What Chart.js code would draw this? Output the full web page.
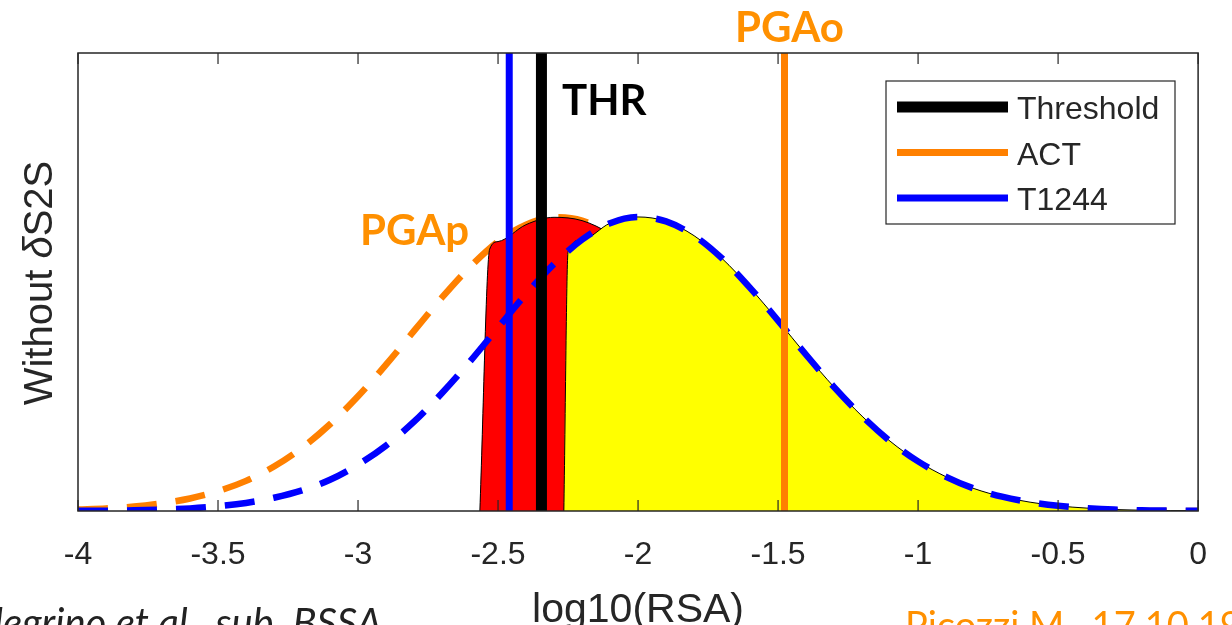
<!DOCTYPE html>
<html>
<head>
<meta charset="utf-8">
<script src="https://cdn.jsdelivr.net/npm/chart.js@4.4.0/dist/chart.umd.min.js"></script>
<style>
  html, body { margin: 0; padding: 0; background: #fff; }
  canvas { display: block; }
</style>
</head>
<body>
<canvas id="pdfChart" width="1232" height="625"></canvas>
<script>
// log10(RSA) grid
const xGrid = [-4.0, -3.9, -3.8, -3.7, -3.6, -3.5, -3.4, -3.3, -3.2, -3.1,
               -3.0, -2.9, -2.8, -2.7, -2.6, -2.5, -2.4, -2.3, -2.2, -2.1,
               -2.0, -1.9, -1.8, -1.7, -1.6, -1.5, -1.4, -1.3, -1.2, -1.1,
               -1.0, -0.9, -0.8, -0.7, -0.6, -0.5, -0.4, -0.3, -0.2, -0.1, 0.0];

// ACT (orange dashed) and T1244 (blue dashed) curves
const actPdf = [0.004, 0.007, 0.012, 0.021, 0.034, 0.054, 0.082, 0.121, 0.172, 0.236,
                0.312, 0.398, 0.490, 0.581, 0.664, 0.733, 0.779, 0.799, 0.790, 0.754,
                0.694, 0.616, 0.526, 0.434, 0.345, 0.265, 0.196, 0.140, 0.096, 0.064,
                0.041, 0.025, 0.015, 0.009, 0.005, 0.002, 0.001, 0.001, 0, 0, 0];
const t1244Pdf = [0.001, 0.001, 0.002, 0.004, 0.007, 0.013, 0.022, 0.036, 0.056, 0.085,
                  0.126, 0.178, 0.243, 0.321, 0.407, 0.499, 0.590, 0.672, 0.738, 0.783,
                  0.800, 0.788, 0.749, 0.687, 0.607, 0.518, 0.425, 0.337, 0.258, 0.190,
                  0.135, 0.093, 0.061, 0.039, 0.024, 0.014, 0.008, 0.004, 0.002, 0.001, 0.001];

// vertical markers
const thresholdX = -2.345;
const actX = -1.477;
const t1244X = -2.46;

// shaded areas: left edge points, then the curve
const redEdgeX = [-2.565, -2.53];
const redEdgeY = [0, 0.712];
const redEndX = -1.9;
const yellowEdgeX = [-2.265, -2.25];
const yellowEdgeY = [0, 0.705];

const xTicks = [-4, -3.5, -3, -2.5, -2, -1.5, -1, -0.5, 0];
const legendLabels = ['Threshold', 'ACT', 'T1244'];

const yMax = 1.246;
const ORANGE = '#ff8000';
const TEXT_ORANGE = '#ff9000';
const AXIS = '#262626';
const SANS = '"Liberation Sans", Arial, sans-serif';

function pts(xs, ys) { return xs.map((x, i) => ({ x: x, y: ys[i] })); }

const actPts = pts(xGrid, actPdf);
const t1244Pts = pts(xGrid, t1244Pdf);
const redPts = pts(redEdgeX, redEdgeY)
  .concat(actPts.filter(p => p.x > redEdgeX[1] + 1e-9 && p.x <= redEndX + 1e-9))
  .concat([{ x: redEndX, y: 0 }]);
const yellowPts = pts(yellowEdgeX, yellowEdgeY)
  .concat(t1244Pts.filter(p => p.x > yellowEdgeX[1] + 1e-9));

function vline(x) { return [{ x: x, y: 0 }, { x: x, y: yMax }]; }

const framePlugin = {
  id: 'frame',
  afterDatasetsDraw(chart) {
    const ctx = chart.ctx;
    const a = chart.chartArea;
    const xs = chart.scales.x;
    ctx.save();
    // axes box
    ctx.strokeStyle = AXIS;
    ctx.lineWidth = 1.5;
    ctx.strokeRect(a.left, a.top, a.right - a.left, a.bottom - a.top);
    // inward ticks, bottom and top
    ctx.lineWidth = 1.2;
    xTicks.forEach(v => {
      const px = xs.getPixelForValue(v);
      ctx.beginPath();
      ctx.moveTo(px, a.bottom); ctx.lineTo(px, a.bottom - 11);
      ctx.moveTo(px, a.top); ctx.lineTo(px, a.top + 11);
      ctx.stroke();
    });

    // legend
    const lx = 886, ly = 81, lw = 289, lh = 143;
    ctx.fillStyle = '#fff';
    ctx.fillRect(lx, ly, lw, lh);
    ctx.lineWidth = 1.2;
    ctx.strokeStyle = AXIS;
    ctx.strokeRect(lx, ly, lw, lh);
    ctx.font = '32px ' + SANS;
    ctx.textBaseline = 'alphabetic';
    ctx.textAlign = 'left';
    legendLabels.forEach((lab, i) => {
      const ds = chart.data.datasets.find(d => d.label === lab);
      const y = 107 + i * 45.5;
      ctx.beginPath();
      ctx.strokeStyle = ds.borderColor;
      ctx.lineWidth = ds.borderWidth;
      ctx.moveTo(lx + 11, y); ctx.lineTo(lx + 122, y);
      ctx.stroke();
      ctx.fillStyle = AXIS;
      ctx.fillText(lab, lx + 131, y + 12);
    });

    // y label with italic delta
    ctx.save();
    ctx.translate(52, 283);
    ctx.rotate(-Math.PI / 2);
    const parts = [['Without ', '40px ' + SANS], ['\u03b4', 'italic 40px ' + SANS], ['S2S', '40px ' + SANS]];
    let total = 0;
    parts.forEach(p => { ctx.font = p[1]; total += ctx.measureText(p[0]).width; });
    let cx = -total / 2;
    ctx.fillStyle = AXIS;
    parts.forEach(p => { ctx.font = p[1]; ctx.fillText(p[0], cx, 0); cx += ctx.measureText(p[0]).width; });
    ctx.restore();

    // annotations
    ctx.font = 'bold 42px Lato, "Open Sans", sans-serif';
    ctx.fillStyle = '#000';
    ctx.textAlign = 'left';
    ctx.fillText('THR', 562, 115);
    ctx.fillStyle = TEXT_ORANGE;
    ctx.textAlign = 'center';
    ctx.fillText('PGAo', xs.getPixelForValue(actX) + 5, 42);
    ctx.textAlign = 'left';
    ctx.fillText('PGAp', 360, 245);

    // slide footers, cut by the frame
    ctx.font = 'italic 40px Lato, "Open Sans", sans-serif';
    ctx.fillStyle = '#222';
    ctx.textAlign = 'right';
    ctx.fillText('Pellegrino et al., sub. BSSA', 382, 637);
    ctx.font = '38px Lato, "Open Sans", sans-serif';
    ctx.fillStyle = TEXT_ORANGE;
    ctx.textAlign = 'left';
    ctx.fillText('Picozzi M., 17.10.19', 905, 639);
    ctx.restore();
  }
};

const ctx = document.getElementById('pdfChart').getContext('2d');
new Chart(ctx, {
  type: 'scatter',
  data: {
    datasets: [
      { label: 'ACT', data: vline(actX), showLine: true, borderColor: ORANGE, borderWidth: 7, pointRadius: 0, order: 0 },
      { label: 'Threshold', data: vline(thresholdX), showLine: true, borderColor: '#000', borderWidth: 11, pointRadius: 0, order: 1 },
      { label: 'T1244', data: vline(t1244X), showLine: true, borderColor: '#0000ff', borderWidth: 7, pointRadius: 0, order: 2 },
      { label: 'T1244 pdf', data: t1244Pts, showLine: true, borderColor: '#0000ff', borderWidth: 6.5, borderDash: [30, 19],
        cubicInterpolationMode: 'monotone', pointRadius: 0, order: 3 },
      { label: 'exceed', data: yellowPts, showLine: true, borderColor: '#000', borderWidth: 1, backgroundColor: '#ffff00',
        fill: 'origin', cubicInterpolationMode: 'monotone', pointRadius: 0, order: 4 },
      { label: 'below', data: redPts, showLine: true, borderColor: '#000', borderWidth: 1, backgroundColor: '#ff0000',
        fill: 'origin', cubicInterpolationMode: 'monotone', pointRadius: 0, order: 5 },
      { label: 'ACT pdf', data: actPts, showLine: true, borderColor: ORANGE, borderWidth: 6.5, borderDash: [30, 19],
        cubicInterpolationMode: 'monotone', pointRadius: 0, order: 6 }
    ]
  },
  options: {
    responsive: false,
    animation: false,
    layout: { padding: { left: 78, right: 32, top: 53, bottom: 0 } },
    plugins: { legend: { display: false }, tooltip: { enabled: false } },
    scales: {
      x: {
        type: 'linear', min: -4, max: 0,
        grid: { display: false, drawTicks: false },
        border: { display: false },
        ticks: { stepSize: 0.5, padding: 25, color: AXIS, font: { family: SANS, size: 32 },
                 callback: v => String(Math.round(v * 10) / 10) },
        title: { display: true, text: 'log10(RSA)', color: AXIS, padding: 0,
                 font: { family: SANS, size: 41, lineHeight: 0.7 } },
        afterFit: s => { s.height = 114; }
      },
      y: { display: false, min: 0, max: yMax }
    }
  },
  plugins: [framePlugin]
});
</script>
</body>
</html>
